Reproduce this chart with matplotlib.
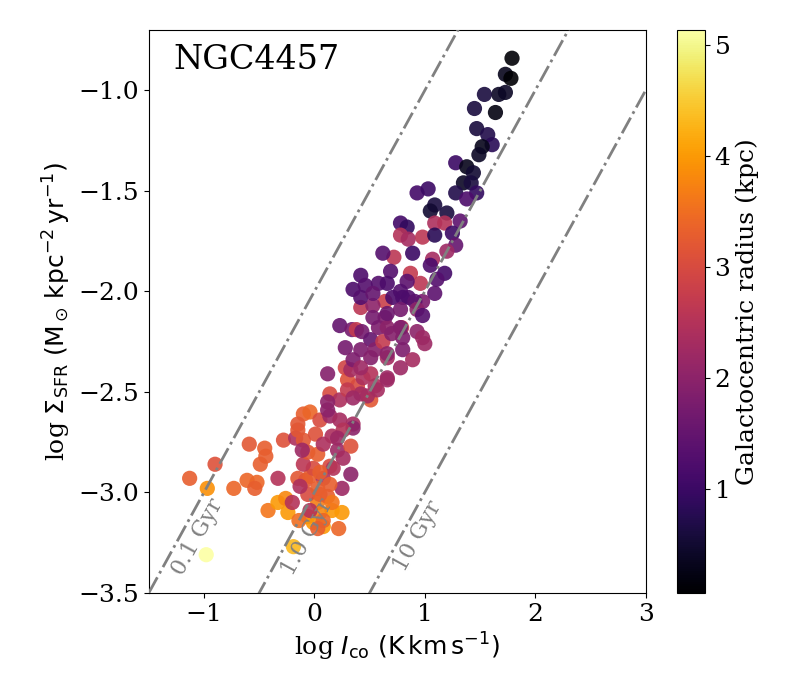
import matplotlib
matplotlib.use("Agg")
import matplotlib.pyplot as plt
import numpy as np

plt.rcParams["font.family"] = "serif"
plt.rcParams["mathtext.fontset"] = "dejavusans"

# log I_CO, log Sigma_SFR, galactocentric radius (kpc)
log_ico = [
    1.79, 1.73, 1.78, 1.73, 1.67, 1.54, 1.45, 1.64, 1.47, 1.57,
    1.61, 1.52, 1.49, 1.28, 1.38, 1.44, 1.35, 1.42, 1.47, 1.28,
    1.38, 0.93, 1.03, 1.09, 1.05, 1.20, 1.32, 1.09, 1.18, 0.78,
    0.84, 0.78, 0.85, 0.98, 1.09, 1.25, 1.28, 1.20, 0.89, 0.72,
    0.62, 1.07, 1.05, 1.18, 1.11, 0.87, 0.96, 0.84, 0.69, 0.78,
    1.09, 0.98, 0.64, 0.85, 0.42, 0.35, 0.46, 0.58, 0.66, 0.42,
    0.53, 0.71, 0.80, 0.91, 0.93, 0.98, 0.64, 0.23, 0.34, 0.38,
    0.43, 0.51, 0.58, 0.66, 0.79, 0.80, 0.93, 0.98, 1.00, 0.28,
    0.42, 0.55, 0.62, 0.66, 0.80, 0.89, 0.78, 0.12, 0.28, 0.30,
    0.39, 0.33, 0.44, 0.51, 0.55, 0.66, 0.14, 0.23, 0.42, 0.51,
    0.57, -0.10, -0.04, 0.05, 0.14, 0.23, 0.35, -0.15, -0.98, -1.13,
    -0.90, -0.97, -0.73, -0.59, -0.45, -0.44, -0.49, -0.61, -0.52, -0.54,
    -0.33, -0.42, -0.33, -0.26, -0.24, -0.20, -0.14, -0.19, -0.06, -0.01,
    0.08, 0.22, 0.25, 0.16, 0.05, 0.03, 0.12, 0.16, -0.06, 0.05,
    -0.08, -0.15, -0.04, 0.08, 0.25, 0.33, 0.14, -0.01, -0.10, -0.06,
    0.03, -0.28, -0.17, -0.10, -0.11, -0.15, 0.01, 0.08, 0.21, 0.33,
    0.35, 0.26, 0.16, 0.12, 0.12, 0.30, 0.48, 0.66, 0.42, 0.53,
    0.66, 0.78, 0.53, 0.78, 0.70, 0.51, 0.66, 0.35, 0.42, 0.35,
    0.21, 0.26, 0.17, 0.05, -0.13, 0.14, -0.04, 0.08, 0.03, 0.03,
]
log_sfr = [
    -0.84, -0.92, -0.94, -1.01, -1.02, -1.02, -1.09, -1.11, -1.19, -1.22,
    -1.27, -1.28, -1.32, -1.36, -1.38, -1.41, -1.46, -1.46, -1.51, -1.51,
    -1.54, -1.51, -1.49, -1.57, -1.60, -1.61, -1.65, -1.66, -1.66, -1.66,
    -1.68, -1.72, -1.74, -1.73, -1.72, -1.71, -1.77, -1.80, -1.81, -1.83,
    -1.81, -1.84, -1.87, -1.91, -1.94, -1.91, -1.96, -1.95, -1.90, -2.00,
    -2.01, -2.05, -2.05, -2.03, -1.92, -1.99, -1.97, -1.96, -1.96, -2.08,
    -2.07, -2.03, -2.03, -2.05, -2.09, -2.12, -2.13, -2.17, -2.19, -2.19,
    -2.20, -2.24, -2.18, -2.18, -2.18, -2.23, -2.20, -2.23, -2.26, -2.28,
    -2.29, -2.29, -2.25, -2.33, -2.29, -2.34, -2.38, -2.41, -2.38, -2.44,
    -2.47, -2.39, -2.43, -2.41, -2.47, -2.43, -2.51, -2.54, -2.51, -2.54,
    -2.49, -2.61, -2.60, -2.64, -2.62, -2.64, -2.66, -2.66, -3.31, -2.93,
    -2.86, -2.98, -2.98, -2.76, -2.78, -2.82, -2.86, -2.94, -2.95, -2.98,
    -2.93, -3.09, -3.05, -3.03, -3.10, -3.05, -3.14, -3.27, -3.12, -3.15,
    -3.17, -3.18, -3.10, -3.09, -3.10, -3.05, -3.02, -3.05, -3.01, -3.01,
    -2.94, -2.93, -2.92, -2.93, -2.98, -2.91, -2.87, -2.88, -2.86, -2.80,
    -2.81, -2.74, -2.73, -2.74, -2.79, -2.69, -2.71, -2.76, -2.79, -2.77,
    -2.68, -2.69, -2.72, -2.59, -2.55, -2.49, -2.52, -2.44, -2.03, -2.01,
    -2.11, -2.09, -2.13, -2.18, -2.21, -2.33, -2.31, -2.34, -2.38, -2.53,
    -2.73, -2.83, -2.88, -2.90, -2.97, -2.96, -3.09, -3.14, -3.18, -2.98,
]
radius = [
    0.10, 0.30, 0.06, 0.40, 0.40, 0.60, 0.60, 0.20, 0.60, 0.70,
    0.80, 0.30, 0.40, 1.00, 0.30, 0.50, 0.40, 0.60, 0.90, 0.70,
    1.20, 1.10, 1.00, 0.60, 0.50, 0.60, 1.40, 2.40, 2.50, 1.10,
    0.90, 2.50, 2.30, 2.60, 0.80, 1.00, 1.50, 2.20, 1.00, 2.60,
    1.30, 2.30, 1.20, 1.10, 1.30, 2.70, 2.60, 1.40, 1.30, 1.30,
    1.40, 1.80, 2.80, 1.30, 1.20, 1.20, 1.30, 1.30, 1.20, 2.60,
    2.00, 1.20, 1.20, 1.40, 2.00, 1.30, 1.80, 1.50, 1.70, 2.70,
    1.70, 1.50, 1.80, 2.00, 2.60, 1.80, 2.00, 2.20, 2.20, 1.70,
    1.80, 1.90, 2.70, 2.30, 1.80, 2.30, 2.20, 1.90, 2.90, 3.10,
    3.00, 2.30, 2.40, 2.50, 2.40, 2.20, 3.00, 2.40, 2.30, 3.20,
    2.30, 3.30, 3.40, 3.00, 2.20, 2.30, 2.30, 3.20, 5.13, 3.30,
    3.10, 3.90, 3.40, 3.20, 3.30, 3.30, 3.30, 3.40, 3.40, 3.30,
    2.50, 3.60, 4.00, 3.80, 4.00, 2.50, 3.50, 4.30, 3.50, 4.00,
    4.00, 3.40, 4.00, 4.00, 3.80, 3.70, 3.30, 3.60, 3.00, 3.30,
    3.20, 3.20, 3.30, 2.40, 2.20, 2.00, 3.00, 3.00, 2.60, 3.20,
    3.30, 3.10, 2.40, 3.20, 2.20, 3.20, 3.10, 2.40, 2.20, 3.10,
    2.00, 2.50, 2.40, 2.00, 2.00, 2.70, 2.30, 2.20, 1.30, 1.50,
    1.60, 1.70, 1.70, 1.80, 1.90, 1.90, 2.00, 1.80, 2.20, 2.20,
    2.20, 2.30, 2.50, 3.30, 2.40, 3.30, 2.50, 3.40, 3.30, 3.30,
]

# depletion-time lines: log Sigma_SFR = log I_CO + offset
tdep_offsets = [-2.0, -3.0, -4.0]
tdep_labels = ["0.1 Gyr", "1.0 Gyr", "10 Gyr"]

fig = plt.figure(figsize=(8, 7), dpi=100)
ax = fig.add_axes([0.186, 0.153, 0.621, 0.804])
cax = fig.add_axes([0.846, 0.153, 0.035, 0.804])

sc = ax.scatter(log_ico, log_sfr, c=radius, cmap="inferno",
                vmin=min(radius), vmax=max(radius), s=120,
                alpha=0.9, edgecolors="none", zorder=2)

xx = np.array([-1.5, 3.0])
for off, lab in zip(tdep_offsets, tdep_labels):
    ax.plot(xx, xx + off, ls="-.", color="gray", lw=2, zorder=3)
    yt = -3.22
    ax.text(yt - off + 0.16, yt, lab, color="gray", fontsize=16,
            rotation=45, transform_rotates_text=True,
            rotation_mode="anchor", ha="center", va="center", zorder=3)

ax.set_xlim(-1.5, 3)
ax.set_ylim(-3.5, -0.7)
ax.set_xticks([-1, 0, 1, 2, 3])
ax.set_yticks([-3.5, -3.0, -2.5, -2.0, -1.5, -1.0])
ax.tick_params(labelsize=18)
ax.set_xlabel(r"log $I_{\rm co}$ $(\rm K\,km\,s^{-1})$", fontsize=18)
ax.set_ylabel(r"log $\Sigma_{\rm SFR}$ $(\rm M_\odot\,kpc^{-2}\,yr^{-1})$",
              fontsize=18)
ax.text(0.05, 0.975, "NGC4457", transform=ax.transAxes, fontsize=24,
        ha="left", va="top")

cb = fig.colorbar(sc, cax=cax)
cb.set_ticks([1, 2, 3, 4, 5])
cb.ax.tick_params(labelsize=18)
cb.set_label("Galactocentric radius (kpc)", fontsize=18)
cb.solids.set_alpha(1)

fig.savefig("out.png", dpi=100)
